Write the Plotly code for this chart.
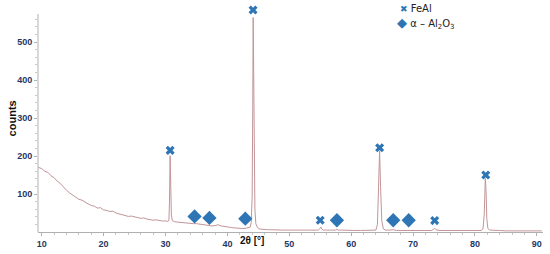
import plotly.graph_objects as go

# diffractogram (2theta in degrees, counts)
two_theta = [
    9.4, 9.5, 10.0, 10.5, 11.0, 11.5, 12.0, 12.5, 13.0, 13.5, 14.0, 14.5, 15.0, 15.5,
    16.0, 16.5, 17.0, 17.5, 18.0, 18.5, 19.0, 19.5, 20.0, 20.5, 21.0, 21.5, 22.0, 22.5,
    23.0, 23.5, 24.0, 24.5, 25.0, 25.5, 26.0, 26.5, 27.0, 27.5, 28.0, 28.5, 29.0, 29.5,
    30.0, 30.4, 30.55, 30.65, 30.75, 30.85, 30.95, 31.1, 31.5, 32.0, 32.5, 33.0, 33.5,
    34.0, 34.5, 35.0, 35.5, 36.0, 36.5, 37.0, 37.5, 38.0, 38.5, 39.0, 39.5, 40.0, 40.5,
    41.0, 41.5, 42.0, 42.5, 43.0, 43.4, 43.7, 43.85, 44.0, 44.1, 44.17, 44.25, 44.35,
    44.45, 44.6, 44.85, 45.2, 45.6, 46.0, 46.5, 47.0, 48.0, 49.0, 50.0, 51.0, 52.0, 53.0,
    54.0, 54.7, 54.95, 55.1, 55.25, 55.5, 56.0, 57.0, 57.5, 57.7, 57.9, 58.5, 59.5, 60.5,
    61.5, 62.5, 63.5, 64.0, 64.25, 64.45, 64.6, 64.75, 64.95, 65.2, 65.6, 66.2, 66.8,
    67.3, 68.0, 69.0, 70.0, 71.0, 72.0, 73.0, 73.3, 73.5, 73.7, 74.2, 75.0, 76.0, 77.0,
    78.0, 79.0, 80.0, 81.0, 81.3, 81.5, 81.68, 81.8, 81.92, 82.1, 82.4, 83.0, 84.0, 85.0,
    86.0, 87.0, 88.0, 89.0, 90.0, 90.8,
]
counts = [
    172, 170, 167, 160, 157, 148, 143, 134, 128, 118, 110, 103, 97, 92,
    86, 84, 78, 74, 70, 68, 63, 64, 58, 57, 54, 55, 50, 48,
    46, 45, 41, 42, 39, 38, 36, 37, 34, 33, 31, 32, 30, 29,
    29, 28, 30, 80, 201, 120, 45, 30, 27, 26, 25, 24, 24,
    23, 22, 22, 21, 19, 18, 17, 16, 17, 19, 16, 14, 13, 12,
    11, 10, 10, 9, 10, 11, 13, 25, 90, 330, 565, 420, 170,
    60, 22, 12, 8, 7, 6, 6, 6, 5, 5, 5, 5, 5, 5,
    5, 5, 9, 13, 8, 5, 5, 5, 5, 7, 5, 5, 4, 4,
    4, 4, 4, 5, 20, 110, 214, 120, 30, 8, 5, 5, 6,
    4, 4, 4, 4, 4, 4, 4, 7, 10, 6, 4, 4, 4, 4,
    4, 4, 4, 4, 8, 45, 141, 110, 35, 9, 5, 4, 4, 3,
    3, 3, 3, 3, 3, 3,
]

# phase markers
feal_x = [30.75, 44.15, 55.0, 64.6, 73.5, 81.75]
feal_y = [215, 585, 31, 222, 30, 150]
al2o3_x = [34.7, 37.1, 42.9, 57.7, 66.8, 69.3]
al2o3_y = [41, 37, 35, 31, 31, 31]

y_top = 574  # where the drawn y axis line stops

line_col = "#c29599"
mark_col = "#2e75b6"
tick_col = "#1f3864"
axis_col = "#b0b0b0"

fig = go.Figure()
fig.add_trace(go.Scatter(x=two_theta, y=counts, mode="lines",
                         line=dict(color=line_col, width=1), showlegend=False))
fig.add_trace(go.Scatter(x=feal_x, y=feal_y, mode="markers", showlegend=False,
                         marker=dict(symbol="x", size=8, color=mark_col), cliponaxis=False))
fig.add_trace(go.Scatter(x=al2o3_x, y=al2o3_y, mode="markers", showlegend=False,
                         marker=dict(symbol="diamond", size=11, color=mark_col), cliponaxis=False))

# y axis line shorter than the plot area, so the top marker still fits
fig.add_shape(type="line", xref="paper", yref="y", x0=0, x1=0, y0=0, y1=y_top,
              line=dict(color=axis_col, width=1))

# legend drawn as text, glyphs coloured like the markers
legend_font = dict(family="DejaVu Sans", size=10, color="#222222")
fig.add_annotation(x=0.712, y=0.998, xref="paper", yref="paper", xanchor="left", yanchor="middle",
                   text="<span style='color:#2e75b6;font-size:9px'>✖</span> FeAl",
                   showarrow=False, font=legend_font)
fig.add_annotation(x=0.707, y=0.934, xref="paper", yref="paper", xanchor="left", yanchor="middle",
                   text="<span style='color:#2e75b6;font-size:13px'>◆</span> α – Al<sub>2</sub>O<sub>3</sub>",
                   showarrow=False, font=legend_font)
fig.add_annotation(x=44.0, y=-0.04, xref="x", yref="paper", yanchor="middle",
                   text="<b>2θ [°]</b>", showarrow=False,
                   font=dict(family="Liberation Sans", size=10, color="#111111"))
fig.add_annotation(x=-0.052, y=0.506, xref="paper", yref="paper", textangle=-90,
                   xanchor="center", yanchor="middle",
                   text="<b>counts</b>", showarrow=False,
                   font=dict(family="Liberation Sans", size=11, color="#111111"))

fig.update_layout(
    width=550, height=254,
    margin=dict(l=38, r=7, t=8, b=22),
    paper_bgcolor="white", plot_bgcolor="white",
    font=dict(family="Liberation Sans", size=9, color=tick_col),
    showlegend=False,
)
fig.update_xaxes(range=[9.4, 91], tickvals=[10, 20, 30, 40, 50, 60, 70, 80, 90],
                 tickfont=dict(size=9, color=tick_col, weight="bold"), automargin=False,
                 showgrid=False, zeroline=False, showline=True, linecolor=axis_col,
                 ticks="outside", ticklen=3, tickcolor=axis_col,
                 minor=dict(dtick=2, ticks="outside", ticklen=2, tickcolor="#c8c8c8"))
fig.update_yaxes(range=[0, 590], tickvals=[100, 200, 300, 400, 500],
                 tickfont=dict(size=9, color=tick_col, weight="bold"), automargin=False,
                 showgrid=False, zeroline=False, showline=False,
                 ticks="outside", ticklen=3, tickcolor=axis_col,
                 minor=dict(tickvals=list(range(20, 561, 20)), ticks="outside",
                            ticklen=2, tickcolor="#c8c8c8"))

# the page body has a default 8px margin; drop it so the figure fills the window
fig.write_html("out.html", config={"displayModeBar": False},
               post_script="document.body.style.margin='0';")
